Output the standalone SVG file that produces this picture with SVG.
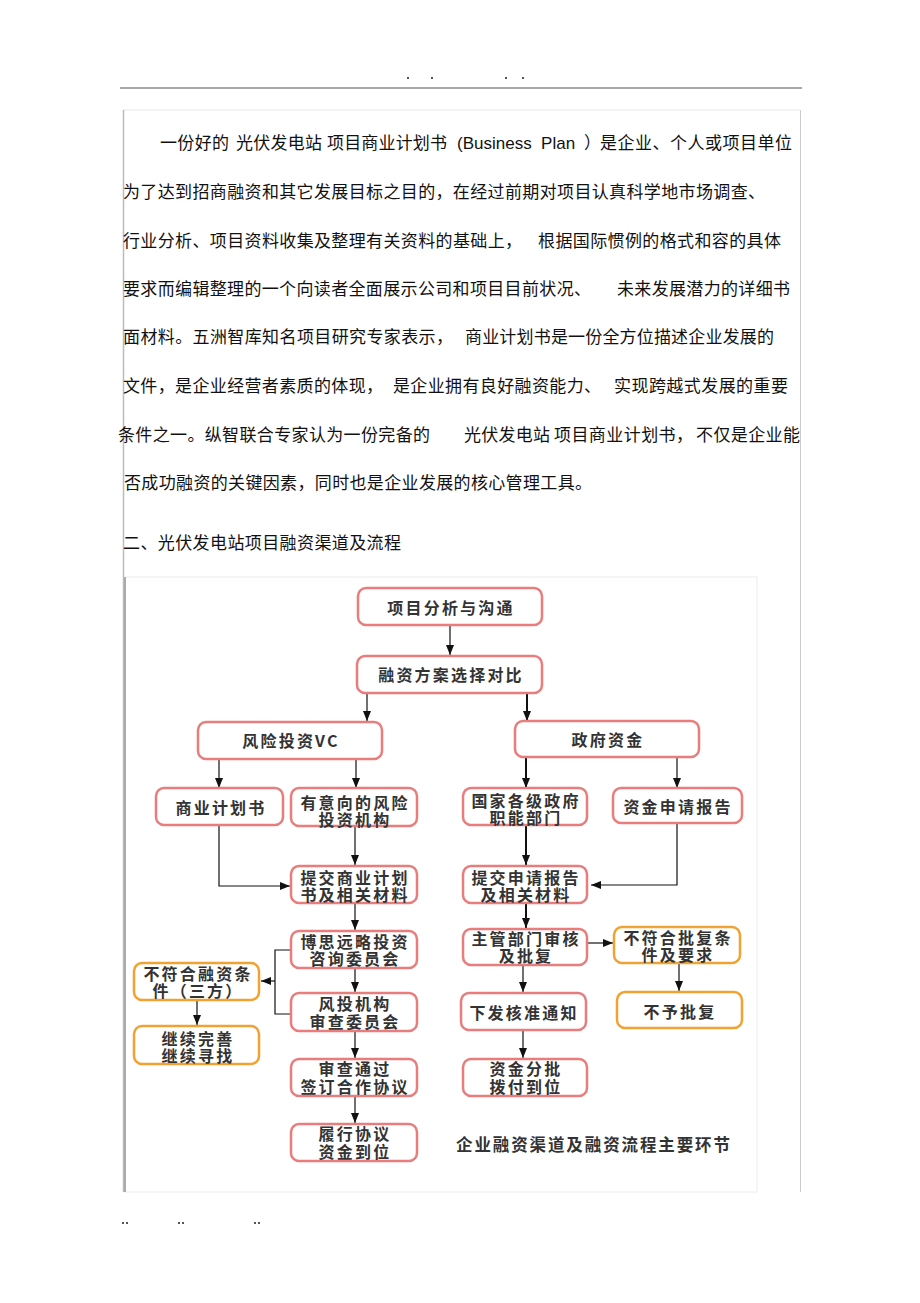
<svg xmlns="http://www.w3.org/2000/svg" width="920" height="1303" viewBox="0 0 920 1303">
<style>
.p{font-family:"Liberation Serif","Noto Sans CJK SC",serif;font-size:17px;fill:#111}
.lat{font-family:"Liberation Sans",Arial,sans-serif;font-size:17px;fill:#111}
.box{fill:#fff;stroke:#e97c7c;stroke-width:2.5}
.obox{fill:#fff;stroke:#f0a232;stroke-width:2.5}
.bt{font-family:"Noto Sans CJK SC",sans-serif;font-size:16px;font-weight:bold;fill:#333;text-anchor:middle;dominant-baseline:central;letter-spacing:2.2px}
.cap{font-family:"Noto Sans CJK SC",sans-serif;font-size:16.5px;font-weight:bold;fill:#333;dominant-baseline:central}
.ln{fill:none;stroke:#111;stroke-width:1.2}
.thk{fill:none;stroke:#111;stroke-width:2}
.dot{fill:#555}
</style>
<defs>
<marker id="ah" markerUnits="userSpaceOnUse" markerWidth="10" markerHeight="10" viewBox="0 0 10 10" refX="10" refY="5" orient="auto">
<path d="M0,1 L10,5 L0,9 Z" fill="#111"/>
</marker>
</defs>
<rect width="920" height="1303" fill="#fff"/>
<g id="header">
<rect class="dot" x="407" y="77" width="2" height="2"/>
<rect class="dot" x="431" y="77" width="2" height="2"/>
<rect class="dot" x="505" y="77" width="2" height="2"/>
<rect class="dot" x="522" y="77" width="2" height="2"/>
<line x1="120" y1="88" x2="802" y2="88" stroke="#aaa" stroke-width="2"/>
</g>
<g id="page-frame">
<line x1="123" y1="110" x2="800" y2="110" stroke="#e6e6e6" stroke-width="1"/>
<line x1="123.5" y1="110" x2="123.5" y2="1192" stroke="#bbb" stroke-width="1.5"/>
<line x1="800.5" y1="110" x2="800.5" y2="1192" stroke="#ccc" stroke-width="1"/>
</g>
<g id="paragraph">
<text class="p" y="149"><tspan x="160" textLength="69">一份好的</tspan><tspan x="236" textLength="86">光伏发电站</tspan><tspan x="327" textLength="120">项目商业计划书</tspan></text>
<text class="lat" x="457" y="149" xml:space="preserve">(Business  Plan </text>
<text class="p" x="584" y="149">）</text>
<text class="p" x="600" y="149" textLength="192">是企业、个人或项目单位</text>
<text class="p" x="123" y="198" textLength="642">为了达到招商融资和其它发展目标之目的，在经过前期对项目认真科学地市场调查、</text>
<text class="p" x="123" y="247" textLength="399">行业分析、项目资料收集及整理有关资料的基础上，</text>
<text class="p" x="538" y="247" textLength="243">根据国际惯例的格式和容的具体</text>
<text class="p" x="123" y="295" textLength="468">要求而编辑整理的一个向读者全面展示公司和项目目前状况、</text>
<text class="p" x="617" y="295" textLength="173">未来发展潜力的详细书</text>
<text class="p" x="123" y="343" textLength="330">面材料。五洲智库知名项目研究专家表示，</text>
<text class="p" x="465" y="343" textLength="309">商业计划书是一份全方位描述企业发展的</text>
<text class="p" x="123" y="392" textLength="260">文件，是企业经营者素质的体现，</text>
<text class="p" x="393" y="392" textLength="208">是企业拥有良好融资能力、</text>
<text class="p" x="614" y="392" textLength="174">实现跨越式发展的重要</text>
<text class="p" x="118" y="441" textLength="312">条件之一。纵智联合专家认为一份完备的</text>
<text class="p" x="464" y="441" textLength="86">光伏发电站</text>
<text class="p" x="554" y="441" textLength="139">项目商业计划书，</text>
<text class="p" x="696" y="441" textLength="104">不仅是企业能</text>
<text class="p" x="124" y="489" textLength="468">否成功融资的关键因素，同时也是企业发展的核心管理工具。</text>
<text class="p" x="123" y="549" textLength="278">二、光伏发电站项目融资渠道及流程</text>
</g>
<g id="chart-frame">
<rect x="125" y="577" width="632" height="615" fill="none" stroke="#ececec" stroke-width="1"/>
<line x1="125" y1="577" x2="125" y2="1192" stroke="#aaa" stroke-width="2"/>
</g>
<g id="connectors">
<line class="ln" x1="450" y1="625" x2="450" y2="655" marker-end="url(#ah)"/>
<line class="ln" x1="367" y1="693" x2="367" y2="721" marker-end="url(#ah)"/>
<line class="thk" x1="527" y1="693" x2="527" y2="721" marker-end="url(#ah)"/>
<line class="ln" x1="219" y1="760" x2="219" y2="788" marker-end="url(#ah)"/>
<line class="ln" x1="356" y1="760" x2="356" y2="788" marker-end="url(#ah)"/>
<line class="thk" x1="526" y1="757" x2="526" y2="788" marker-end="url(#ah)"/>
<line class="ln" x1="677" y1="757" x2="677" y2="788" marker-end="url(#ah)"/>
<line class="ln" x1="355" y1="827" x2="355" y2="865" marker-end="url(#ah)"/>
<polyline class="ln" points="219,825 219,886 290,886" marker-end="url(#ah)"/>
<line class="thk" x1="526" y1="825" x2="526" y2="865" marker-end="url(#ah)"/>
<polyline class="ln" points="677,823 677,885 591,885" marker-end="url(#ah)"/>
<line class="ln" x1="355" y1="903" x2="355" y2="930" marker-end="url(#ah)"/>
<line class="thk" x1="526" y1="903" x2="526" y2="928" marker-end="url(#ah)"/>
<line class="ln" x1="355" y1="968" x2="355" y2="992" marker-end="url(#ah)"/>
<polyline class="ln" points="292,950 275,950 275,1014 292,1014"/>
<line class="ln" x1="275" y1="981" x2="261" y2="981" marker-end="url(#ah)"/>
<line class="ln" x1="197" y1="1000" x2="197" y2="1025" marker-end="url(#ah)"/>
<line class="ln" x1="355" y1="1031" x2="355" y2="1058" marker-end="url(#ah)"/>
<line class="ln" x1="355" y1="1096" x2="355" y2="1123" marker-end="url(#ah)"/>
<line class="ln" x1="587" y1="943" x2="613" y2="943" marker-end="url(#ah)"/>
<line class="ln" x1="679" y1="963" x2="679" y2="991" marker-end="url(#ah)"/>
<line class="ln" x1="523" y1="965" x2="523" y2="992" marker-end="url(#ah)"/>
<line class="ln" x1="523" y1="1030" x2="523" y2="1058" marker-end="url(#ah)"/>
</g>
<g id="n-analysis"><rect class="box" x="358" y="588" width="184" height="37" rx="8"/><text class="bt" x="451" y="607">项目分析与沟通</text></g>
<g id="n-compare"><rect class="box" x="357" y="656" width="185" height="37" rx="8"/><text class="bt" x="451" y="674">融资方案选择对比</text></g>
<g id="n-vc"><rect class="box" x="198" y="722" width="184" height="37" rx="8"/><text class="bt" x="291" y="740">风险投资VC</text></g>
<g id="n-gov"><rect class="box" x="515" y="721" width="184" height="36" rx="8"/><text class="bt" x="608" y="739">政府资金</text></g>
<g id="n-bp"><rect class="box" x="156" y="788" width="127" height="37" rx="8"/><text class="bt" x="221" y="807">商业计划书</text></g>
<g id="n-investor"><rect class="box" x="291" y="788" width="126" height="38" rx="8"/><text class="bt" x="355" y="801.5">有意向的风险<tspan x="355" dy="17.5">投资机构</tspan></text></g>
<g id="n-submit-bp"><rect class="box" x="291" y="866" width="126" height="37" rx="8"/><text class="bt" x="355" y="876.5">提交商业计划<tspan x="355" dy="17.5">书及相关材料</tspan></text></g>
<g id="n-committee"><rect class="box" x="291" y="931" width="126" height="37" rx="8"/><text class="bt" x="355" y="940.5">博思远略投资<tspan x="355" dy="17.5">咨询委员会</tspan></text></g>
<g id="n-review"><rect class="box" x="291" y="993" width="126" height="38" rx="8"/><text class="bt" x="355" y="1003">风投机构<tspan x="355" dy="18">审查委员会</tspan></text></g>
<g id="n-fail-vc"><rect class="obox" x="134" y="963" width="125" height="37" rx="8"/><text class="bt" x="198" y="972.5">不符合融资条<tspan x="198" dy="17.5">件（三方）</tspan></text></g>
<g id="n-continue"><rect class="obox" x="134" y="1026" width="125" height="38" rx="8"/><text class="bt" x="198" y="1037.5">继续完善<tspan x="198" dy="17.5">继续寻找</tspan></text></g>
<g id="n-sign"><rect class="box" x="291" y="1059" width="126" height="37" rx="8"/><text class="bt" x="355" y="1068">审查通过<tspan x="355" dy="18">签订合作协议</tspan></text></g>
<g id="n-fund"><rect class="box" x="291" y="1124" width="126" height="37" rx="8"/><text class="bt" x="355" y="1133">履行协议<tspan x="355" dy="18">资金到位</tspan></text></g>
<g id="n-dept"><rect class="box" x="463" y="788" width="124" height="37" rx="8"/><text class="bt" x="526" y="799.5">国家各级政府<tspan x="526" dy="17.5">职能部门</tspan></text></g>
<g id="n-report"><rect class="box" x="613" y="788" width="129" height="35" rx="8"/><text class="bt" x="678" y="806">资金申请报告</text></g>
<g id="n-submit-report"><rect class="box" x="463" y="866" width="124" height="37" rx="8"/><text class="bt" x="526" y="876.5">提交申请报告<tspan x="526" dy="17.5">及相关材料</tspan></text></g>
<g id="n-approve"><rect class="box" x="463" y="929" width="124" height="36" rx="8"/><text class="bt" x="526" y="937.5">主管部门审核<tspan x="526" dy="17.5">及批复</tspan></text></g>
<g id="n-fail-gov"><rect class="obox" x="614" y="927" width="126" height="36" rx="8"/><text class="bt" x="678" y="936.5">不符合批复条<tspan x="678" dy="17.5">件及要求</tspan></text></g>
<g id="n-reject"><rect class="obox" x="617" y="992" width="125" height="36" rx="8"/><text class="bt" x="680" y="1011">不予批复</text></g>
<g id="n-notice"><rect class="box" x="461" y="993" width="125" height="37" rx="8"/><text class="bt" x="524" y="1012">下发核准通知</text></g>
<g id="n-disburse"><rect class="box" x="463" y="1059" width="124" height="37" rx="8"/><text class="bt" x="526" y="1068">资金分批<tspan x="526" dy="18">拨付到位</tspan></text></g>
<g id="caption"><text class="cap" x="456" y="1144" textLength="274">企业融资渠道及融资流程主要环节</text></g>
<g id="footer">
<rect class="dot" x="122" y="1222" width="2" height="2"/>
<rect class="dot" x="126" y="1222" width="2" height="2"/>
<rect class="dot" x="178" y="1222" width="2" height="2"/>
<rect class="dot" x="182" y="1222" width="2" height="2"/>
<rect class="dot" x="254" y="1222" width="2" height="2"/>
<rect class="dot" x="258" y="1222" width="2" height="2"/>
</g>
</svg>
